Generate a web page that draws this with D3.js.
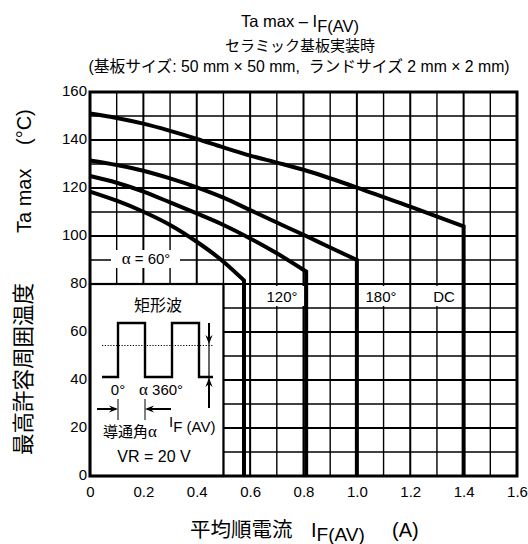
<!DOCTYPE html>
<html><head><meta charset="utf-8">
<script src="https://cdn.jsdelivr.net/npm/d3@7"></script>
<style>
html,body{margin:0;padding:0;background:#fff;}
svg{display:block;font-family:"Liberation Sans",Arial,"Noto Sans CJK JP",sans-serif;}
.gr{font-family:"Liberation Serif","Times New Roman",serif;}
.pre{white-space:pre;}
</style></head>
<body>
<script>
// ---- data ----
const xTickVals = [0, 0.2, 0.4, 0.6, 0.8, 1.0, 1.2, 1.4, 1.6];
const xTickLabels = ["0", "0.2", "0.4", "0.6", "0.8", "1.0", "1.2", "1.4", "1.6"];
const yTickVals = [0, 20, 40, 60, 80, 100, 120, 140, 160];
const yTickLabels = ["0", "20", "40", "60", "80", "100", "120", "140", "160"];

const seriesNames = ["DC", "180°", "120°", "60°"];
// last point of each series = vertical drop to 0 at the current limit
const dcX   = [0, 0.1, 0.2, 0.3, 0.4, 0.5, 0.6, 0.7, 0.8, 1.0, 1.2, 1.4, 1.4];
const dcY   = [151, 149.2, 146.8, 143.8, 140.5, 136.9, 133.5, 130.6, 127.6, 120.2, 112.2, 104, 0];
const a180X = [0, 0.1, 0.2, 0.3, 0.4, 0.5, 0.6, 0.7, 0.8, 0.9, 1.0, 1.0];
const a180Y = [131.5, 129.6, 127.2, 124, 120.3, 116, 110.8, 105.6, 100.5, 95.2, 90, 0];
const a120X = [0, 0.1, 0.2, 0.3, 0.4, 0.5, 0.6, 0.7, 0.81, 0.81];
const a120Y = [125, 122.2, 118.5, 114, 109.4, 104.6, 99, 92.8, 85.2, 0];
const a60X  = [0, 0.1, 0.2, 0.3, 0.4, 0.5, 0.577, 0.577];
const a60Y  = [118.5, 114.7, 110.1, 104.6, 97.6, 89.3, 81.5, 0];

const gridXStep = 0.1, gridYStep = 10;

// ---- chart ----
const W = 528, H = 544;
const svg = d3.select("body").append("svg").attr("width", W).attr("height", H);
const x = d3.scaleLinear().domain([0, 1.6]).range([90, 517]);
const y = d3.scaleLinear().domain([0, 160]).range([476, 92]);

// grid
const gx = d3.range(1, 16).map(i => i * gridXStep);
const gy = d3.range(1, 16).map(i => i * gridYStep);
svg.append("g").selectAll("line").data(gx).join("line")
  .attr("x1", d => x(d)).attr("x2", d => x(d))
  .attr("y1", y(0)).attr("y2", y(160))
  .attr("stroke", "#000").attr("stroke-width", (d, i) => (i % 2 === 1 ? 2 : 1.4));
svg.append("g").selectAll("line").data(gy).join("line")
  .attr("y1", d => y(d)).attr("y2", d => y(d))
  .attr("x1", x(0)).attr("x2", x(1.6))
  .attr("stroke", "#000").attr("stroke-width", (d, i) => (i % 2 === 1 ? 2 : 1.4));

// inset box
svg.append("rect").attr("x", x(0)).attr("y", y(80))
  .attr("width", x(0.5) - x(0)).attr("height", y(0) - y(80))
  .attr("fill", "#fff").attr("stroke", "#000").attr("stroke-width", 2.2);

// label boxes
const boxes = [
  {x0: 111, x1: 180, y0: 250, y1: 268},
  {x0: 252, x1: 304, y0: 286, y1: 306},
  {x0: 359, x1: 408, y0: 286, y1: 306},
  {x0: 412, x1: 462, y0: 286, y1: 306}
];
svg.append("g").selectAll("rect").data(boxes).join("rect")
  .attr("x", d => d.x0).attr("y", d => d.y0)
  .attr("width", d => d.x1 - d.x0).attr("height", d => d.y1 - d.y0)
  .attr("fill", "#fff");

// curves: smooth part + vertical drop
const series = [
  {name: seriesNames[0], xs: dcX, ys: dcY},
  {name: seriesNames[1], xs: a180X, ys: a180Y},
  {name: seriesNames[2], xs: a120X, ys: a120Y},
  {name: seriesNames[3], xs: a60X, ys: a60Y}
];
const smooth = d3.line().x(d => x(d[0])).y(d => y(d[1])).curve(d3.curveMonotoneX);
svg.append("g").selectAll("path").data(series).join("path")
  .attr("d", s => {
    const pts = s.xs.map((v, i) => [v, s.ys[i]]);
    const last = pts.pop();
    return smooth(pts) + `L${x(last[0])},${y(last[1])}`;
  })
  .attr("fill", "none").attr("stroke", "#000").attr("stroke-width", 4)
  .attr("stroke-linejoin", "miter");

// outer frame
svg.append("rect").attr("x", x(0)).attr("y", y(160))
  .attr("width", x(1.6) - x(0)).attr("height", y(0) - y(160))
  .attr("fill", "none").attr("stroke", "#000").attr("stroke-width", 3);

// axes labels
const ax = svg.append("g").attr("transform", `translate(0,${y(0)})`)
  .call(d3.axisBottom(x).tickValues(xTickVals).tickFormat((d, i) => xTickLabels[i]).tickSize(0).tickPadding(10));
const ay = svg.append("g").attr("transform", `translate(${x(0)},0)`)
  .call(d3.axisLeft(y).tickValues(yTickVals).tickFormat((d, i) => yTickLabels[i]).tickSize(0).tickPadding(3));
[ax, ay].forEach(g => {
  g.select(".domain").remove();
  g.selectAll("text").attr("font-size", 15).attr("fill", "#000")
    .attr("font-family", "'Liberation Sans', Arial, sans-serif");
});
ay.selectAll("text").attr("dy", "0.2em");

// series labels
const lab = [
  {t: seriesNames[3], cx: 146, by: 264, alpha: true},
  {t: seriesNames[2], cx: 282, by: 302},
  {t: seriesNames[1], cx: 381, by: 302},
  {t: seriesNames[0], cx: 444, by: 302}
];
lab.forEach(l => {
  const t = svg.append("text").attr("x", l.cx).attr("y", l.by).attr("text-anchor", "middle")
    .attr("font-size", 15);
  if (l.alpha) {
    t.append("tspan").attr("class", "gr").attr("font-size", 17).text("α");
    t.append("tspan").text(" = " + l.t);
  } else t.text(l.t);
});

// titles
const t1 = svg.append("text").attr("x", 300).attr("y", 27).attr("text-anchor", "middle").attr("font-size", 16.5);
t1.append("tspan").text("Ta max – I");
t1.append("tspan").attr("dy", 5).text("F(AV)");
svg.append("text").attr("x", 300).attr("y", 51).attr("text-anchor", "middle").attr("font-size", 15)
  .text("セラミック基板実装時");
svg.append("text").attr("class", "pre").attr("x", 299).attr("y", 72).attr("text-anchor", "middle").attr("font-size", 15.8)
  .text("(基板サイズ: 50 mm × 50 mm,  ランドサイズ 2 mm × 2 mm)");

// x title
const xt = svg.append("text").attr("y", 537).attr("font-size", 20);
xt.append("tspan").attr("x", 190).attr("font-size", 20.5).text("平均順電流");
xt.append("tspan").attr("x", 311).text("I");
xt.append("tspan").attr("dy", 4).attr("font-size", 19).text("F(AV)");
xt.append("tspan").attr("x", 392).attr("dy", -4).text("(A)");

// y title
const yt = svg.append("text").attr("transform", "translate(31,455) rotate(-90)").attr("font-size", 20);
yt.append("tspan").attr("x", 0).attr("font-size", 21.5).text("最高許容周囲温度");
yt.append("tspan").attr("x", 222).text("Ta max");
yt.append("tspan").attr("x", 310).text("(°C)");

// ---- inset drawing ----
const ins = svg.append("g");
ins.append("text").attr("x", 158).attr("y", 311).attr("text-anchor", "middle").attr("font-size", 16).text("矩形波");
const waveX = [102, 118, 118, 145, 145, 172, 172, 199, 199, 213];
const waveY = [377, 377, 323, 323, 377, 377, 323, 323, 377, 377];
ins.append("path").attr("d", d3.line()(waveX.map((v, i) => [v, waveY[i]])))
  .attr("fill", "none").attr("stroke", "#000").attr("stroke-width", 2.4).attr("stroke-linejoin", "miter");
ins.append("line").attr("x1", 102).attr("x2", 213).attr("y1", 345.5).attr("y2", 345.5)
  .attr("stroke", "#000").attr("stroke-width", 1).attr("stroke-dasharray", "1.2,1.6");
ins.append("line").attr("x1", 209).attr("x2", 209).attr("y1", 323).attr("y2", 408)
  .attr("stroke", "#000").attr("stroke-width", 1.2);
ins.append("line").attr("x1", 209).attr("x2", 209).attr("y1", 380).attr("y2", 408)
  .attr("stroke", "#000").attr("stroke-width", 2);
ins.append("line").attr("x1", 209).attr("x2", 209).attr("y1", 323).attr("y2", 340)
  .attr("stroke", "#000").attr("stroke-width", 2);
function arrowHead(tx, ty, dir) {
  const L = 9, Wd = 3.6;
  let pts;
  if (dir === "down") pts = [[tx, ty], [tx - Wd, ty - L], [tx, ty - L + 3], [tx + Wd, ty - L]];
  if (dir === "up") pts = [[tx, ty], [tx - Wd, ty + L], [tx, ty + L - 3], [tx + Wd, ty + L]];
  if (dir === "right") pts = [[tx, ty], [tx - L, ty - Wd], [tx - L + 3, ty], [tx - L, ty + Wd]];
  if (dir === "left") pts = [[tx, ty], [tx + L, ty - Wd], [tx + L - 3, ty], [tx + L, ty + Wd]];
  ins.append("path").attr("d", d3.line()(pts) + "Z").attr("fill", "#000");
}
arrowHead(209, 344, "down");
arrowHead(209, 378, "up");
ins.append("line").attr("x1", 97).attr("x2", 116).attr("y1", 409).attr("y2", 409).attr("stroke", "#000").attr("stroke-width", 2);
ins.append("line").attr("x1", 147).attr("x2", 171).attr("y1", 409).attr("y2", 409).attr("stroke", "#000").attr("stroke-width", 2);
arrowHead(118, 409, "right");
arrowHead(145, 409, "left");
ins.append("line").attr("x1", 118).attr("x2", 118).attr("y1", 399).attr("y2", 420).attr("stroke", "#000").attr("stroke-width", 1);
ins.append("line").attr("x1", 145).attr("x2", 145).attr("y1", 399).attr("y2", 420).attr("stroke", "#000").attr("stroke-width", 1);
ins.append("text").attr("x", 118).attr("y", 395).attr("text-anchor", "middle").attr("font-size", 15).text("0°");
const at = ins.append("text").attr("x", 139).attr("y", 395).attr("font-size", 15);
at.append("tspan").attr("class", "gr").attr("font-size", 17).text("α");
at.append("tspan").text(" 360°");
const ct = ins.append("text").attr("x", 103).attr("y", 437).attr("font-size", 15);
ct.append("tspan").text("導通角");
ct.append("tspan").attr("class", "gr").attr("font-size", 17).text("α");
const it = ins.append("text").attr("x", 169).attr("y", 427).attr("font-size", 15);
it.append("tspan").text("I");
it.append("tspan").attr("dy", 5).text("F (AV)");
ins.append("text").attr("x", 154).attr("y", 462).attr("text-anchor", "middle").attr("font-size", 16).text("VR = 20 V");
</script>
</body></html>
